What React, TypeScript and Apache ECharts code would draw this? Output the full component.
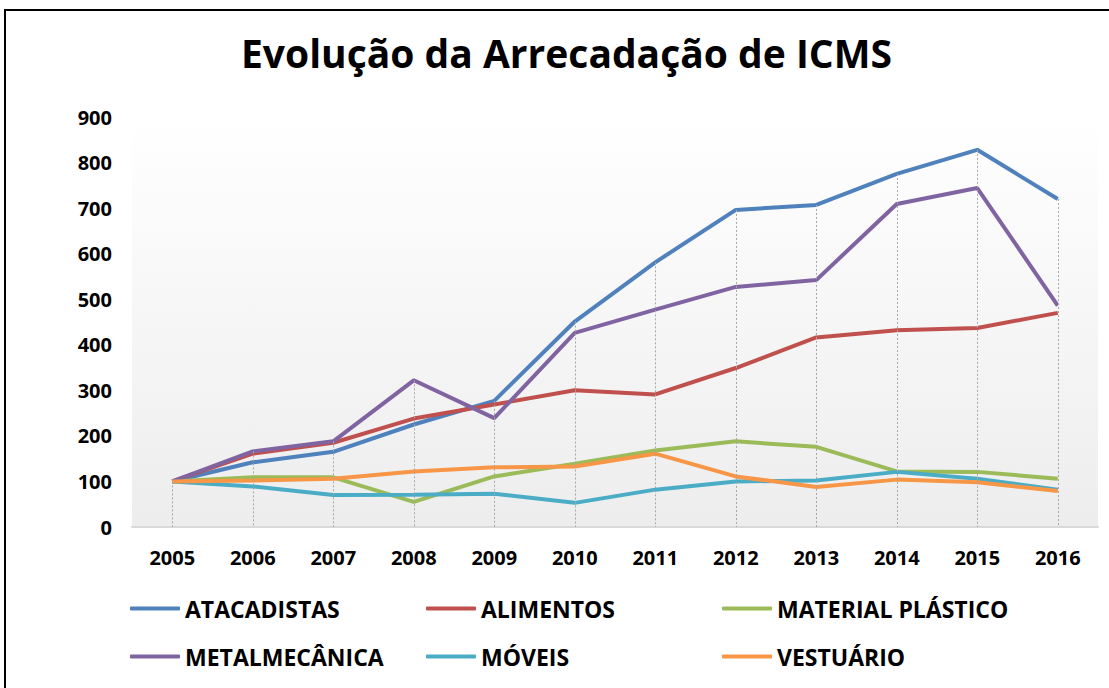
import React, { useEffect, useRef } from "react";
import * as echarts from "echarts";

const years = ["2005","2006","2007","2008","2009","2010","2011","2012","2013","2014","2015","2016"];
const atacadistas = [100,142,165,225,277,451,581,696,707,775,828,720];
const alimentos = [100,161,185,238,269,300,291,349,416,432,437,470];
const materialPlastico = [100,109,109,55,111,139,168,188,176,122,121,106];
const metalmecanica = [100,166,188,322,239,426,477,527,542,709,744,486];
const moveis = [100,89,70,71,73,53,82,100,102,121,106,82];
const vestuario = [100,102,106,122,131,133,161,111,88,104,98,79];
const yTicks = [0,100,200,300,400,500,600,700,800,900];

const FONT = "'Open Sans', sans-serif";

const seriesDefs = [
  { name: "ATACADISTAS", data: atacadistas, color: "#4F81BD" },
  { name: "ALIMENTOS", data: alimentos, color: "#C0504D" },
  { name: "MATERIAL PLÁSTICO", data: materialPlastico, color: "#9BBB59" },
  { name: "METALMECÂNICA", data: metalmecanica, color: "#8064A2" },
  { name: "MÓVEIS", data: moveis, color: "#4BACC6" },
  { name: "VESTUÁRIO", data: vestuario, color: "#F79646" },
];

const legendPos = [
  { left: 130, top: 597 },
  { left: 426, top: 597 },
  { left: 722, top: 597 },
  { left: 130, top: 645 },
  { left: 426, top: 645 },
  { left: 722, top: 645 },
];

export default function App() {
  const ref = useRef<HTMLDivElement>(null);
  useEffect(() => {
    if (!ref.current) return;
    const chart = echarts.init(ref.current, null, { renderer: "svg" });
    const maxPerYear = years.map((_, i) => Math.max(...seriesDefs.map((s) => s.data[i])));
    chart.setOption({
      animation: false,
      backgroundColor: "#ffffff",
      title: {
        text: "Evolução da Arrecadação de ICMS",
        left: 241,
        top: 33,
        padding: 0,
        textStyle: { fontFamily: FONT, fontSize: 39, fontWeight: "bold", color: "#000" },
      },
      graphic: [
        {
          type: "rect",
          shape: { x: 5, y: 10, width: 1120, height: 700 },
          style: { fill: "none", stroke: "#000", lineWidth: 2 },
          silent: true,
          z: 100,
        },
      ],
      legend: seriesDefs.map((s, i) => ({
        data: [s.name],
        left: legendPos[i].left,
        top: legendPos[i].top,
        padding: 0,
        icon: "roundRect",
        itemWidth: 50,
        itemHeight: 4,
        textStyle: { fontFamily: FONT, fontSize: 23, fontWeight: "bold", color: "#000" },
        selectedMode: false,
      })),
      grid: {
        left: 132,
        right: 11,
        top: 117,
        bottom: 161,
        show: true,
        borderWidth: 0,
        backgroundColor: new echarts.graphic.LinearGradient(0, 0, 0, 1, [
          { offset: 0, color: "#ffffff" },
          { offset: 1, color: "#ededed" },
        ]),
      },
      xAxis: {
        type: "category",
        data: years,
        boundaryGap: true,
        axisLine: { show: true, lineStyle: { color: "#d9d9d9", width: 2 } },
        axisTick: { show: false },
        axisLabel: { fontFamily: FONT, fontSize: 20, fontWeight: "bold", color: "#000", margin: 20 },
        splitLine: { show: false },
      },
      yAxis: {
        type: "value",
        min: yTicks[0],
        max: yTicks[yTicks.length - 1],
        interval: 100,
        axisLine: { show: false },
        axisTick: { show: false },
        splitLine: { show: false },
        axisLabel: { fontFamily: FONT, fontSize: 20, fontWeight: "bold", color: "#000", margin: 20 },
      },
      series: [
        {
          type: "line",
          name: "__drop",
          data: [],
          silent: true,
          z: 1,
          markLine: {
            silent: true,
            symbol: ["none", "none"],
            label: { show: false },
            lineStyle: { color: "#a6a6a6", type: [2, 2], width: 1 },
            data: maxPerYear.map((m, i) => [
              { coord: [years[i], m] },
              { coord: [years[i], 0] },
            ]),
          },
        },
        ...seriesDefs.map((s) => ({
          type: "line",
          name: s.name,
          data: s.data,
          showSymbol: false,
          symbol: "none",
          z: 2,
          lineStyle: { color: s.color, width: 4 },
          itemStyle: { color: s.color },
        })),
      ],
    });
    return () => chart.dispose();
  }, []);
  return (
    <div
      ref={ref}
      style={{ position: "fixed", left: 0, top: 0, width: 1109, height: 688 }}
    />
  );
}
